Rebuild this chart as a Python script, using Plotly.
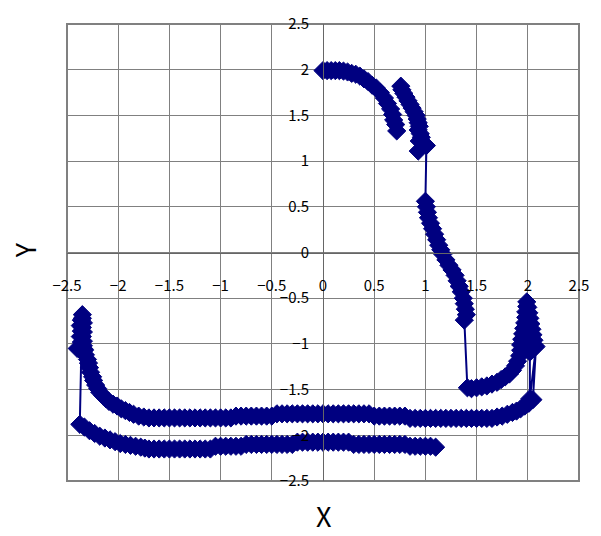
import plotly.graph_objects as go

# Trajectory samples, one list pair per stretch of the path
arc_top_x = [0.00, 0.04, 0.08, 0.12, 0.16, 0.20, 0.24, 0.28, 0.32, 0.36, 0.40,
             0.44, 0.48, 0.52, 0.56, 0.60, 0.63, 0.66, 0.68, 0.69, 0.71, 0.72]
arc_top_y = [1.99, 1.99, 1.99, 1.99, 1.99, 1.985, 1.975, 1.96, 1.95, 1.93, 1.90,
             1.87, 1.83, 1.80, 1.75, 1.69, 1.63, 1.57, 1.51, 1.45, 1.40, 1.33]

arc_second_x = [0.76, 0.77, 0.79, 0.81, 0.83, 0.85, 0.87, 0.89, 0.91, 0.92, 0.93,
                0.94, 0.93, 0.95, 0.96, 0.94, 0.93, 1.01]
arc_second_y = [1.82, 1.78, 1.74, 1.70, 1.66, 1.62, 1.58, 1.54, 1.50, 1.46, 1.42,
                1.38, 1.34, 1.30, 1.26, 1.22, 1.11, 1.17]

diag_x = [1.00, 1.01, 1.02, 1.03, 1.05, 1.07, 1.09, 1.11, 1.13, 1.15, 1.17, 1.20,
          1.23, 1.26, 1.29, 1.31, 1.33, 1.35, 1.37, 1.38, 1.39, 1.40, 1.38]
diag_y = [0.56, 0.50, 0.44, 0.38, 0.32, 0.26, 0.20, 0.14, 0.08, 0.03, -0.02, -0.08,
          -0.14, -0.19, -0.25, -0.31, -0.37, -0.43, -0.50, -0.56, -0.62, -0.68, -0.74]

hook_up_x = [1.41, 1.45, 1.50, 1.55, 1.60, 1.65, 1.70, 1.74, 1.78, 1.82, 1.85, 1.88,
             1.90, 1.92, 1.93, 1.93, 1.94, 1.95, 1.96, 1.97, 1.98, 1.98, 1.99, 1.99]
hook_up_y = [-1.48, -1.49, -1.48, -1.47, -1.46, -1.44, -1.42, -1.39, -1.36, -1.33,
             -1.29, -1.24, -1.19, -1.13, -1.07, -1.01, -0.95, -0.89, -0.83, -0.77,
             -0.71, -0.65, -0.59, -0.54]

hook_down_x = [2.00, 2.01, 2.02, 2.03, 2.04, 2.05, 2.06, 2.07, 2.04, 2.02, 2.02, 2.08]
hook_down_y = [-0.60, -0.66, -0.72, -0.78, -0.84, -0.90, -0.96, -1.02, -1.06, -1.09,
               -1.60, -1.03]

band_upper_x = [2.05, 2.01, 1.97, 1.93, 1.89, 1.85, 1.80, 1.75, 1.70,
                1.65, 1.60, 1.55, 1.50, 1.45, 1.40, 1.35, 1.30, 1.25, 1.20, 1.15,
                1.10, 1.05, 1.00, 0.95, 0.90, 0.85,
                0.80, 0.75, 0.70, 0.65, 0.60, 0.55, 0.50,
                0.45, 0.40, 0.35, 0.30, 0.25, 0.20, 0.15, 0.10, 0.05, 0.00,
                -0.05, -0.10, -0.15, -0.20, -0.25, -0.30, -0.35, -0.40, -0.45,
                -0.50, -0.55, -0.60, -0.65, -0.70, -0.75, -0.80, -0.85,
                -0.90, -0.95, -1.00, -1.05, -1.10, -1.15, -1.20, -1.25, -1.30,
                -1.35, -1.40, -1.45, -1.50, -1.55, -1.60, -1.65, -1.70,
                -1.75, -1.80, -1.85, -1.89, -1.93, -1.97, -2.01, -2.05, -2.09, -2.12,
                -2.15, -2.18, -2.20, -2.22, -2.24, -2.25, -2.27, -2.28, -2.29, -2.30,
                -2.32, -2.33, -2.34, -2.34, -2.35, -2.34, -2.35, -2.34, -2.35, -2.35]
band_upper_y = [-1.61, -1.65, -1.68, -1.71, -1.735, -1.75, -1.77, -1.79, -1.80,
                -1.815, -1.815, -1.815, -1.815, -1.815, -1.815, -1.815, -1.815,
                -1.815, -1.815, -1.815, -1.815, -1.815, -1.815, -1.815, -1.815, -1.815,
                -1.79, -1.79, -1.79, -1.79, -1.79, -1.79, -1.79,
                -1.765, -1.765, -1.765, -1.765, -1.765, -1.765, -1.765, -1.765,
                -1.765, -1.765, -1.765, -1.765, -1.765, -1.765, -1.765, -1.765,
                -1.765, -1.765, -1.765,
                -1.79, -1.79, -1.79, -1.79, -1.79, -1.79, -1.79, -1.79,
                -1.81, -1.81, -1.81, -1.81, -1.81, -1.81, -1.81, -1.81, -1.81,
                -1.81, -1.81, -1.81, -1.81, -1.81, -1.81, -1.81, -1.81,
                -1.80, -1.79, -1.77, -1.75, -1.73, -1.71, -1.68, -1.66, -1.63, -1.60,
                -1.565, -1.53, -1.49, -1.45, -1.40, -1.36, -1.31, -1.26, -1.21, -1.17,
                -1.12, -1.07, -1.02, -0.97, -0.92, -0.87, -0.82, -0.77, -0.72, -0.68]

left_hook_x = [-2.36, -2.37, -2.36, -2.37, -2.36, -2.40, -2.33, -2.36]
left_hook_y = [-0.74, -0.80, -0.86, -0.92, -0.98, -1.05, -1.06, -1.08]

band_lower_x = [-2.375, -2.33, -2.28, -2.23, -2.18, -2.13, -2.08, -2.03, -1.98, -1.93,
                -1.88, -1.83, -1.78, -1.74,
                -1.70, -1.65, -1.60, -1.55, -1.50, -1.45, -1.40, -1.35, -1.30, -1.25,
                -1.20, -1.15, -1.10,
                -1.05, -1.00, -0.95, -0.90, -0.85, -0.80,
                -0.75, -0.70, -0.65, -0.60, -0.55, -0.50, -0.45, -0.40, -0.35, -0.30,
                -0.25, -0.20, -0.15, -0.10, -0.05, 0.00, 0.05, 0.10, 0.15, 0.20, 0.25,
                0.30, 0.35, 0.40, 0.45, 0.50, 0.55, 0.60, 0.65, 0.70, 0.75, 0.80,
                0.85, 0.90, 0.95, 1.00, 1.05, 1.10]
band_lower_y = [-1.88, -1.91, -1.95, -1.98, -2.01, -2.03, -2.05, -2.07, -2.09, -2.10,
                -2.11, -2.12, -2.13, -2.14,
                -2.15, -2.15, -2.15, -2.15, -2.15, -2.15, -2.15, -2.15, -2.15, -2.15,
                -2.15, -2.15, -2.15,
                -2.12, -2.12, -2.12, -2.12, -2.12, -2.12,
                -2.10, -2.10, -2.10, -2.10, -2.10, -2.10, -2.10, -2.10, -2.10, -2.10,
                -2.075, -2.075, -2.075, -2.075, -2.075, -2.075, -2.075, -2.075, -2.075,
                -2.075, -2.075,
                -2.10, -2.10, -2.10, -2.10, -2.10, -2.10, -2.10, -2.10, -2.10, -2.10, -2.10,
                -2.12, -2.12, -2.12, -2.12, -2.12, -2.13]

tick_vals = [-2.5, -2.0, -1.5, -1.0, -0.5, 0.0, 0.5, 1.0, 1.5, 2.0, 2.5]

# The first arc is its own stretch; everything after it is one connected path
path_x = (arc_top_x + [None] + arc_second_x + diag_x + hook_up_x + hook_down_x
          + band_upper_x + left_hook_x + band_lower_x)
path_y = (arc_top_y + [None] + arc_second_y + diag_y + hook_up_y + hook_down_y
          + band_upper_y + left_hook_y + band_lower_y)

NAVY = "#000080"
GRID = "#808080"
TICK_FONT = dict(family="Noto Sans CJK JP", size=15, color="black")
TITLE_FONT = dict(family="Noto Sans CJK JP", size=27, color="black")

fig = go.Figure()
fig.add_trace(go.Scatter(
    x=path_x, y=path_y, mode="lines+markers",
    line=dict(color=NAVY, width=2),
    marker=dict(symbol="diamond", size=14, color=NAVY, line=dict(color=NAVY, width=1)),
    connectgaps=False, showlegend=False, hoverinfo="skip",
))

fig.update_layout(
    width=601, height=536,
    margin=dict(l=67, r=14, t=19, b=55),
    paper_bgcolor="white", plot_bgcolor="white",
    xaxis=dict(
        range=[-2.5, 2.5], tickvals=tick_vals, showgrid=True, gridcolor=GRID,
        gridwidth=1, zeroline=False, showline=True, linecolor="#666666", linewidth=1,
        anchor="free", position=0.5, ticks="", ticklabelstandoff=19,
        tickfont=TICK_FONT, fixedrange=True,
    ),
    yaxis=dict(
        range=[-2.5, 2.5], tickvals=tick_vals, showgrid=True, gridcolor=GRID,
        gridwidth=1, zeroline=False, showline=True, linecolor="#666666", linewidth=1,
        anchor="free", position=0.5, ticks="", ticklabelstandoff=11,
        tickfont=TICK_FONT, fixedrange=True,
    ),
    shapes=[dict(type="rect", xref="paper", yref="paper", x0=0, y0=0, x1=1, y1=1,
                 line=dict(color="#808080", width=2), layer="below")],
    annotations=[
        dict(text="X", xref="paper", yref="paper", x=0.502, y=-0.076,
             xanchor="center", yanchor="middle", showarrow=False, font=TITLE_FONT),
        dict(text="Y", xref="paper", yref="paper", x=-0.083, y=0.504, textangle=-90,
             xanchor="center", yanchor="middle", showarrow=False, font=TITLE_FONT),
    ],
)

fig.write_html("out.html")
